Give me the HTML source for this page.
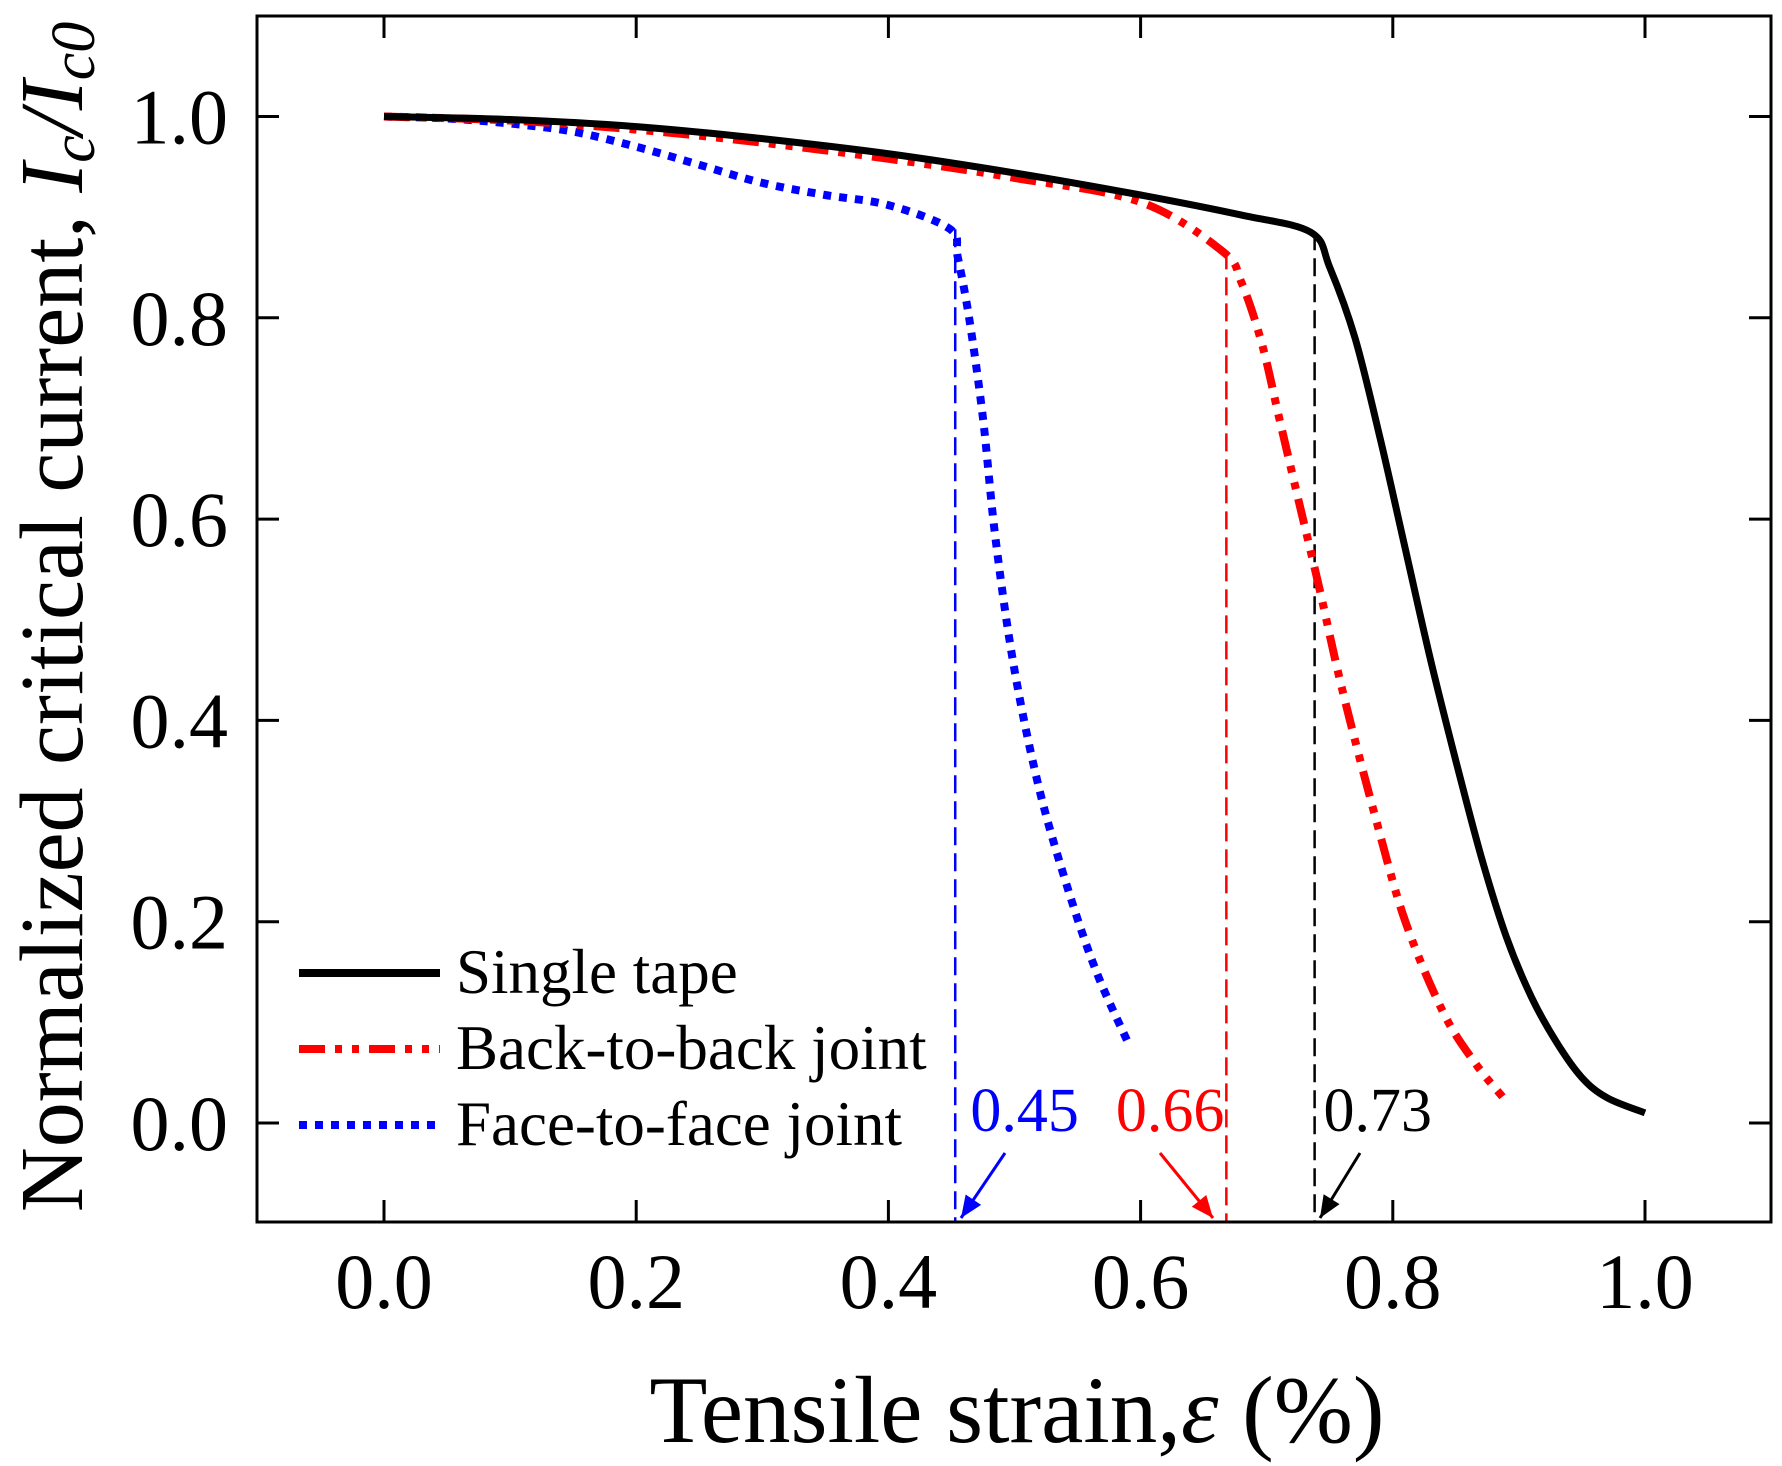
<!DOCTYPE html>
<html><head><meta charset="utf-8"><style>
html,body{margin:0;padding:0;background:#fff;}
svg{display:block;font-family:"Liberation Serif",serif;}
</style></head><body>
<svg id="chart" width="1782" height="1466" viewBox="0 0 1782 1466" xmlns="http://www.w3.org/2000/svg">
<g id="plot"></g>
</svg>
<script>
const xTicks=[0.0,0.2,0.4,0.6,0.8,1.0];
const yTicks=[0.0,0.2,0.4,0.6,0.8,1.0];
const tickLabels=["0.0","0.2","0.4","0.6","0.8","1.0"];
const singleX=[0,0.1,0.2,0.3,0.4,0.5,0.6,0.68,0.735,0.75,0.77,0.79,0.81,0.83,0.85,0.87,0.89,0.91,0.93,0.95,0.97,1.0];
const singleY=[1.0,0.997,0.99,0.978,0.963,0.944,0.922,0.902,0.885,0.85,0.78,0.68,0.57,0.46,0.36,0.265,0.185,0.125,0.08,0.045,0.025,0.01];
const backX=[0,0.1,0.2,0.3,0.4,0.5,0.6,0.665,0.68,0.696,0.71,0.725,0.742,0.76,0.787,0.81,0.84,0.865,0.887];
const backY=[1.0,0.996,0.987,0.974,0.958,0.939,0.915,0.866,0.835,0.775,0.7,0.62,0.53,0.43,0.3,0.2,0.11,0.06,0.026];
const faceX=[0,0.05,0.1,0.15,0.2,0.25,0.3,0.35,0.4,0.449,0.455,0.464,0.475,0.485,0.5,0.52,0.543,0.565,0.59];
const faceY=[1.0,0.998,0.993,0.985,0.97,0.952,0.934,0.922,0.912,0.888,0.86,0.8,0.7,0.58,0.45,0.33,0.23,0.15,0.08];
const markers=[0.453,0.668,0.738];
const markerTop=[0.888,0.866,0.885];
const markerLabels=["0.45","0.66","0.73"];

const L=257,R=1771,T=16,B=1222;
const sx=v=>384+(v)*1261, sy=v=>1123-v*1006.5;
const NS="http://www.w3.org/2000/svg";
const g=document.getElementById('plot');
function mk(tag,attrs,parent){const e=document.createElementNS(NS,tag);for(const k in attrs)e.setAttribute(k,attrs[k]);(parent||g).appendChild(e);return e;}

xTicks.forEach((v,i)=>{
 const t1=mk('line',{x1:sx(v),x2:sx(v),y1:B,y2:B-22,stroke:'#000','stroke-width':3});
 
 
 mk('line',{x1:sx(v),x2:sx(v),y1:T,y2:T+22,stroke:'#000','stroke-width':3});
 const tx=mk('text',{x:sx(v),y:1308,'font-size':78,'text-anchor':'middle'});
 tx.textContent=tickLabels[i];
 
 
});
yTicks.forEach((v,i)=>{
 const t1=mk('line',{x1:L,x2:L+22,y1:sy(v),y2:sy(v),stroke:'#000','stroke-width':3});
 
 
 mk('line',{x1:R,x2:R-22,y1:sy(v),y2:sy(v),stroke:'#000','stroke-width':3});
 const tx=mk('text',{x:228,y:sy(v)+27,'font-size':78,'text-anchor':'end'});
 tx.textContent=tickLabels[i];
 
 
});

const mcol=['#0000ff','#ff0000','#000'];
markers.forEach((m,i)=>{
 const l=mk('line',{x1:sx(m),x2:sx(m),y1:sy(markerTop[i]),y2:B,stroke:mcol[i],'stroke-width':2.5,'stroke-dasharray':'18 8'});
 
 
});

function path(xs,ys,attrs,name){
 const P=xs.map((x,i)=>[sx(x),sy(ys[i])]);
 let d='M'+P[0][0].toFixed(1)+' '+P[0][1].toFixed(1);
 for(let i=0;i<P.length-1;i++){
  const p0=P[Math.max(0,i-1)],p1=P[i],p2=P[i+1],p3=P[Math.min(P.length-1,i+2)];
  const c1=[p1[0]+(p2[0]-p0[0])/6,p1[1]+(p2[1]-p0[1])/6];
  const c2=[p2[0]-(p3[0]-p1[0])/6,p2[1]-(p3[1]-p1[1])/6];
  d+=` C${c1[0].toFixed(1)} ${c1[1].toFixed(1)} ${c2[0].toFixed(1)} ${c2[1].toFixed(1)} ${p2[0].toFixed(1)} ${p2[1].toFixed(1)}`;
 }
 const p=mk('path',Object.assign({d:d,fill:'none'},attrs));
 
 
}
path(faceX,faceY,{stroke:'#0000ff','stroke-width':8,'stroke-dasharray':'8 8'},'face-to-face-line');
path(backX,backY,{stroke:'#ff0000','stroke-width':8,'stroke-dasharray':'26 10 7 10 7 10'},'back-to-back-line');
path(singleX,singleY,{stroke:'#000','stroke-width':7,'stroke-linejoin':'round'},'single-tape-line');

const labX=[0.465,0.675,0.745], arrowFrom=[[1005,1153],[1160,1153],[1360,1153]], arrowTo=[[961,1218],[1213,1218],[1320,1218]];
markers.forEach((m,i)=>{
 const tx=mk('text',{x:i==1?sx(m)-2:sx(labX[i]),y:1131,'font-size':62,fill:mcol[i],'text-anchor':i==1?'end':'start'});
 tx.textContent=markerLabels[i];
 
 
 const [x1,y1]=arrowFrom[i],[x2,y2]=arrowTo[i];
 const a=mk('line',{x1:x1,y1:y1,x2:x2,y2:y2,stroke:mcol[i],'stroke-width':3});
 
 
 const ang=Math.atan2(y2-y1,x2-x1),s=24,w=0.4;
 mk('polygon',{points:`${x2},${y2} ${x2-s*Math.cos(ang-w)},${y2-s*Math.sin(ang-w)} ${x2-s*Math.cos(ang+w)},${y2-s*Math.sin(ang+w)}`,fill:mcol[i]});
});

const fr=mk('rect',{x:L,y:T,width:R-L,height:B-T,fill:'none',stroke:'#000','stroke-width':3});



const legNames=['Single tape','Back-to-back joint','Face-to-face joint'];
const legY=[973,1049,1125];
const legStyle=[{stroke:'#000','stroke-width':8},{stroke:'#ff0000','stroke-width':8,'stroke-dasharray':'26 10 7 10 7 10'},{stroke:'#0000ff','stroke-width':8,'stroke-dasharray':'8 8'}];
legNames.forEach((n,i)=>{
 const l=mk('line',Object.assign({x1:299,x2:440,y1:legY[i],y2:legY[i]},legStyle[i]));
 
 
 const tx=mk('text',{x:456,y:legY[i]+20,'font-size':63});
 tx.textContent=n;
 
 
});

const xt=mk('text',{x:1017,y:1442,'font-size':95,'text-anchor':'middle'});
xt.innerHTML='Tensile strain,<tspan font-style="italic">ε</tspan> (%)';


const yt=mk('text',{x:0,y:0,'font-size':90,'text-anchor':'middle',transform:'translate(82,617) rotate(-90)'});
yt.innerHTML='Normalized critical current, <tspan font-style="italic">I</tspan><tspan font-style="italic" font-size="62" dy="12">c</tspan><tspan font-style="italic" dy="-12">/I</tspan><tspan font-style="italic" font-size="62" dy="12">c0</tspan>';


</script>
</body></html>
